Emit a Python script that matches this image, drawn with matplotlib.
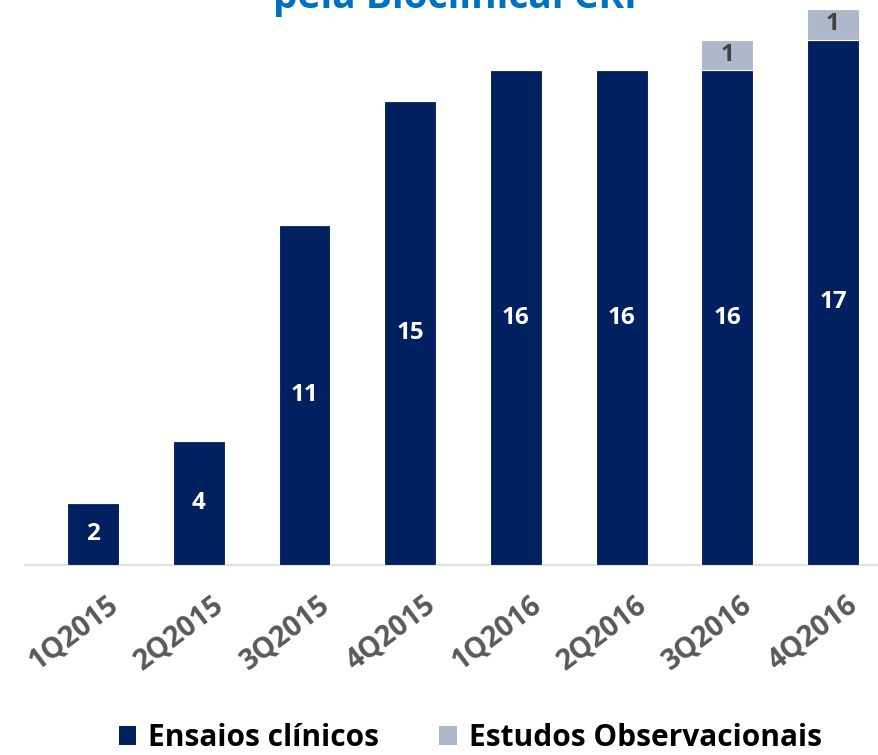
import matplotlib
matplotlib.use("Agg")
import matplotlib.pyplot as plt
from matplotlib.patches import Patch
from matplotlib.transforms import ScaledTranslation

categories = ["1Q2015", "2Q2015", "3Q2015", "4Q2015", "1Q2016", "2Q2016", "3Q2016", "4Q2016"]
ensaios = [2, 4, 11, 15, 16, 16, 16, 17]
observacionais = [0, 0, 0, 0, 0, 0, 1, 1]
title = "pela Bioclinical CRI"

navy = "#002060"
grey = "#ADB9CA"
font = ["Open Sans", "DejaVu Sans"]
plt.rcParams["font.family"] = font

fig = plt.figure(figsize=(8.79, 7.55), dpi=100)
ax = fig.add_axes([25 / 879, 1 - 565 / 755, 1 - 25 / 879, 565 / 755])

x = list(range(len(categories)))
w = 0.49
ax.bar(x, ensaios, width=w, color=navy, edgecolor="white", linewidth=0.8, zorder=3)
ax.bar(x, observacionais, width=w, bottom=ensaios, color=grey, edgecolor="white", linewidth=0.8, zorder=3)

for i, v in enumerate(ensaios):
    if v > 0:
        ax.text(i, v / 2, str(v), ha="center", va="center", color="white",
                fontsize=17.5, fontweight="bold", zorder=4)
for i, v in enumerate(observacionais):
    if v > 0:
        ax.text(i, ensaios[i] + v / 2, str(v), ha="center", va="center", color="#404040",
                fontsize=17.5, fontweight="bold", zorder=4)

ax.set_xlim(-0.645, 7.435)
ax.set_ylim(0, 18.28)
ax.set_yticks([])
for s in ["top", "right", "left"]:
    ax.spines[s].set_visible(False)
ax.spines["bottom"].set_color("#E0E0E0")
ax.spines["bottom"].set_linewidth(1.5)
ax.set_xticks(x)
ax.set_xticklabels(categories, rotation=37, ha="right", va="top", rotation_mode="anchor",
                   fontsize=20.5, fontweight="bold", color="#595959")
ax.tick_params(axis="x", length=0, pad=18)
offset = ScaledTranslation(13 / 100, 0, fig.dpi_scale_trans)
for lab in ax.get_xticklabels():
    lab.set_transform(lab.get_transform() + offset)

fig.text(0.518, 1.003, title, ha="center", va="center", color="#0070C0",
         fontsize=28, fontweight="bold")

handles = [Patch(facecolor=navy, label="Ensaios clínicos"),
           Patch(facecolor=grey, label="Estudos Observacionais")]
fig.legend(handles=handles, loc="center", bbox_to_anchor=(0.535, 1 - 738 / 755), ncol=2,
           frameon=False, prop={"family": font, "weight": "bold", "size": 21.5},
           handlelength=0.6, handleheight=0.6, handletextpad=0.4, columnspacing=2.0)

fig.savefig("out.png", dpi=100)
